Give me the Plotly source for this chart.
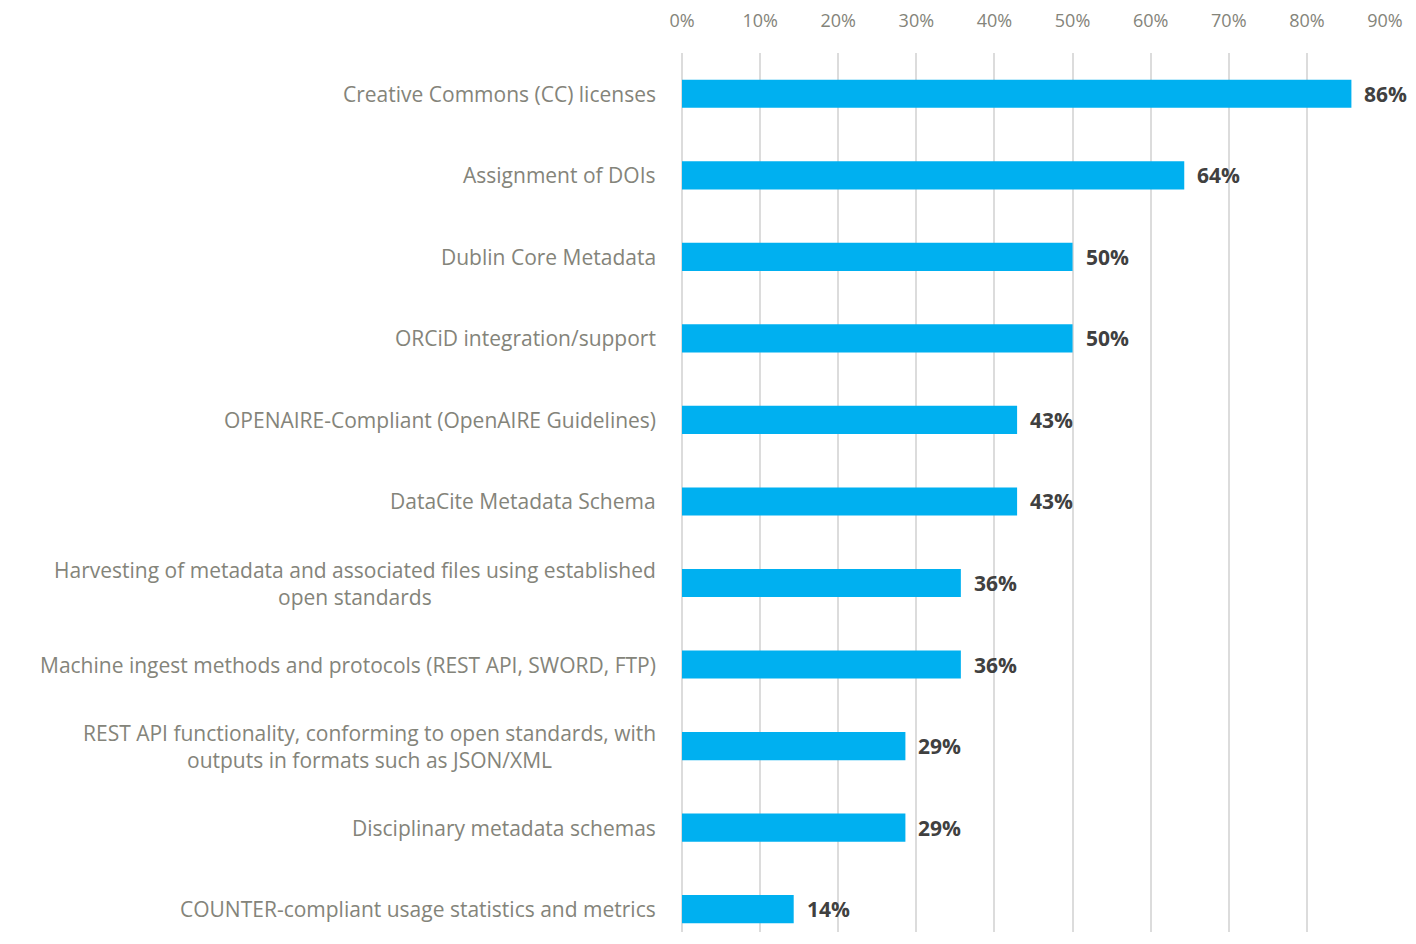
import plotly.graph_objects as go

categories = [
    "Creative Commons (CC) licenses",
    "Assignment of DOIs",
    "Dublin Core Metadata",
    "ORCiD integration/support",
    "OPENAIRE-Compliant (OpenAIRE Guidelines)",
    "DataCite Metadata Schema",
    "Harvesting of metadata and associated files using established<br>open standards",
    "Machine ingest methods and protocols (REST API, SWORD, FTP)",
    "REST API functionality, conforming to open standards, with<br>outputs in formats such as JSON/XML",
    "Disciplinary metadata schemas",
    "COUNTER-compliant usage statistics and metrics",
]
values = [0.857, 0.643, 0.500, 0.500, 0.429, 0.429, 0.357, 0.357, 0.286, 0.286, 0.143]
tick_values = [0, 0.1, 0.2, 0.3, 0.4, 0.5, 0.6, 0.7, 0.8, 0.9]

BAR = "#00B0F0"
LABEL_GRAY = "#84847a"
VALUE_DARK = "#404040"
FONT = "Open Sans"

fig = go.Figure()
fig.add_trace(go.Bar(
    x=values,
    y=list(range(len(categories))),
    orientation="h",
    marker=dict(color=BAR, line=dict(width=0)),
    width=0.345,
    hoverinfo="skip",
))

annotations = []
for i, (cat, v) in enumerate(zip(categories, values)):
    annotations.append(dict(
        x=0, xref="paper", y=i, yref="y",
        text=cat, showarrow=False, xanchor="right", yanchor="middle",
        xshift=-24, align="center",
        font=dict(family=FONT, size=21, color=LABEL_GRAY),
    ))
    annotations.append(dict(
        x=v, xref="x", y=i, yref="y",
        text=f"{round(v * 100)}%", showarrow=False, xanchor="left", yanchor="middle",
        xshift=11, yshift=0,
        font=dict(family=FONT, size=21, color=VALUE_DARK, weight="bold"),
    ))

fig.update_layout(
    width=1408, height=924,
    margin=dict(l=674, r=31, t=45, b=0),
    paper_bgcolor="white", plot_bgcolor="white",
    showlegend=False,
    annotations=annotations,
    xaxis=dict(
        side="top", range=[0, 0.9],
        tickvals=tick_values, tickformat=".0%",
        showgrid=True, gridcolor="#dcdcdc", gridwidth=1.5,
        zeroline=True, zerolinecolor="#dcdcdc", zerolinewidth=1.5,
        showline=False, ticks="",
        ticklabelstandoff=21,
        tickfont=dict(family=FONT, size=18, color=LABEL_GRAY),
        fixedrange=True,
    ),
    yaxis=dict(
        range=[10.28, -0.5],
        showticklabels=False, showgrid=False, zeroline=False,
        fixedrange=True,
    ),
)

fig.write_html("out.html")
